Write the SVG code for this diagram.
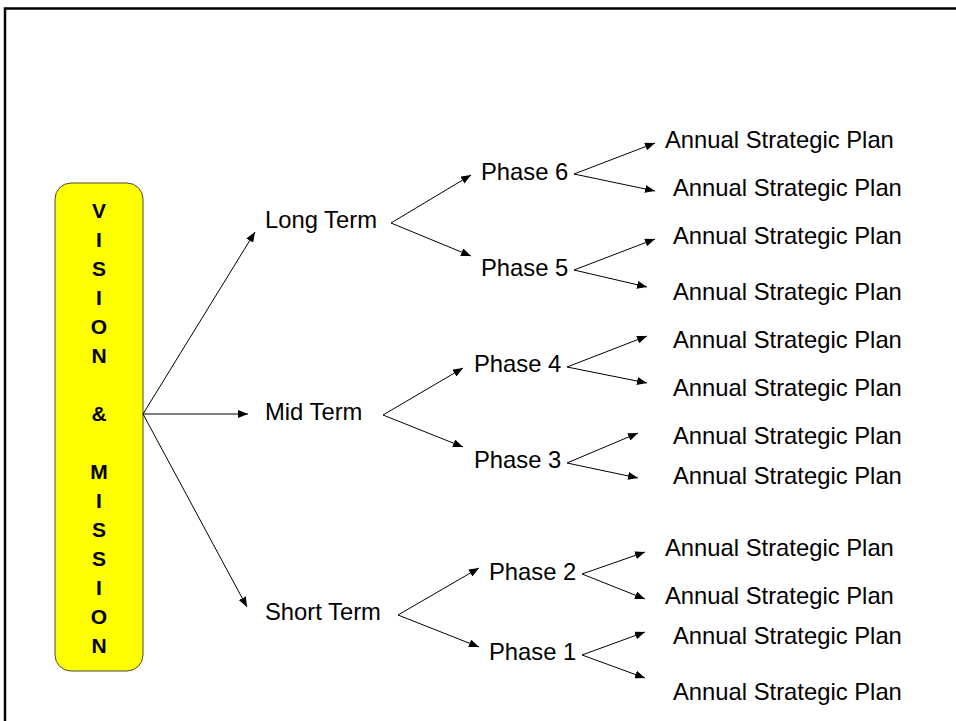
<svg xmlns="http://www.w3.org/2000/svg" width="956" height="721" viewBox="0 0 956 721">
<defs>
<marker id="ah" markerUnits="userSpaceOnUse" markerWidth="10" markerHeight="8" refX="10" refY="4" orient="auto"><path d="M0,0 L10,4 L0,8 z" fill="#000"/></marker>
<style>
.t{font-family:"Liberation Sans",Arial,sans-serif;font-size:23.8px;fill:#000}
.v{font-family:"Liberation Sans",Arial,sans-serif;font-size:21px;font-weight:bold;fill:#000;text-anchor:middle}
.c line{stroke:#000;stroke-width:1;marker-end:url(#ah)}
</style>
</defs>
<rect width="956" height="721" fill="#fff"/>
<path d="M5,721 V8.5 H956" fill="none" stroke="#000" stroke-width="2.5"/>
<g id="vision">
<rect x="55" y="183" width="88" height="488" rx="16" fill="#ffff00" stroke="#4a4a3a" stroke-width="1"/>
<text class="v" x="99" y="218">V</text>
<text class="v" x="99" y="247">I</text>
<text class="v" x="99" y="276">S</text>
<text class="v" x="99" y="305">I</text>
<text class="v" x="99" y="334">O</text>
<text class="v" x="99" y="363">N</text>
<text class="v" x="99" y="421">&amp;</text>
<text class="v" x="99" y="479">M</text>
<text class="v" x="99" y="508">I</text>
<text class="v" x="99" y="537">S</text>
<text class="v" x="99" y="566">S</text>
<text class="v" x="99" y="595">I</text>
<text class="v" x="99" y="624">O</text>
<text class="v" x="99" y="653">N</text>
</g>
<g id="long"><text class="t" x="265" y="228">Long Term</text></g>
<g id="mid"><text class="t" x="265" y="420">Mid Term</text></g>
<g id="short"><text class="t" x="265" y="620">Short Term</text></g>
<g id="p6"><text class="t" x="481" y="180">Phase 6</text></g>
<g id="p5"><text class="t" x="481" y="276">Phase 5</text></g>
<g id="p4"><text class="t" x="474" y="372">Phase 4</text></g>
<g id="p3"><text class="t" x="474" y="468">Phase 3</text></g>
<g id="p2"><text class="t" x="489" y="580">Phase 2</text></g>
<g id="p1"><text class="t" x="489" y="660">Phase 1</text></g>
<g id="a1"><text class="t" x="665" y="148">Annual Strategic Plan</text></g>
<g id="a2"><text class="t" x="673" y="196">Annual Strategic Plan</text></g>
<g id="a3"><text class="t" x="673" y="244">Annual Strategic Plan</text></g>
<g id="a4"><text class="t" x="673" y="300">Annual Strategic Plan</text></g>
<g id="a5"><text class="t" x="673" y="348">Annual Strategic Plan</text></g>
<g id="a6"><text class="t" x="673" y="396">Annual Strategic Plan</text></g>
<g id="a7"><text class="t" x="673" y="444">Annual Strategic Plan</text></g>
<g id="a8"><text class="t" x="673" y="484">Annual Strategic Plan</text></g>
<g id="a9"><text class="t" x="665" y="556">Annual Strategic Plan</text></g>
<g id="a10"><text class="t" x="665" y="604">Annual Strategic Plan</text></g>
<g id="a11"><text class="t" x="673" y="644">Annual Strategic Plan</text></g>
<g id="a12"><text class="t" x="673" y="700">Annual Strategic Plan</text></g>
<g id="connectors" class="c">
<line x1="143" y1="414" x2="255" y2="232"/>
<line x1="143" y1="414" x2="248" y2="414"/>
<line x1="143" y1="414" x2="247" y2="607"/>
<line x1="391" y1="223" x2="471" y2="175"/>
<line x1="391" y1="223" x2="471" y2="256"/>
<line x1="383" y1="415" x2="463" y2="368"/>
<line x1="383" y1="415" x2="463" y2="447"/>
<line x1="398" y1="615" x2="479" y2="568"/>
<line x1="398" y1="615" x2="479" y2="647"/>
<line x1="574" y1="174" x2="655" y2="143"/>
<line x1="574" y1="174" x2="655" y2="191"/>
<line x1="574" y1="270" x2="655" y2="239"/>
<line x1="574" y1="270" x2="647" y2="287"/>
<line x1="567" y1="367" x2="647" y2="336"/>
<line x1="567" y1="367" x2="647" y2="383"/>
<line x1="567" y1="463" x2="638" y2="433"/>
<line x1="567" y1="463" x2="638" y2="478"/>
<line x1="582" y1="574" x2="645" y2="552"/>
<line x1="582" y1="574" x2="645" y2="599"/>
<line x1="582" y1="655" x2="645" y2="632"/>
<line x1="582" y1="655" x2="645" y2="678"/>
</g>
</svg>
